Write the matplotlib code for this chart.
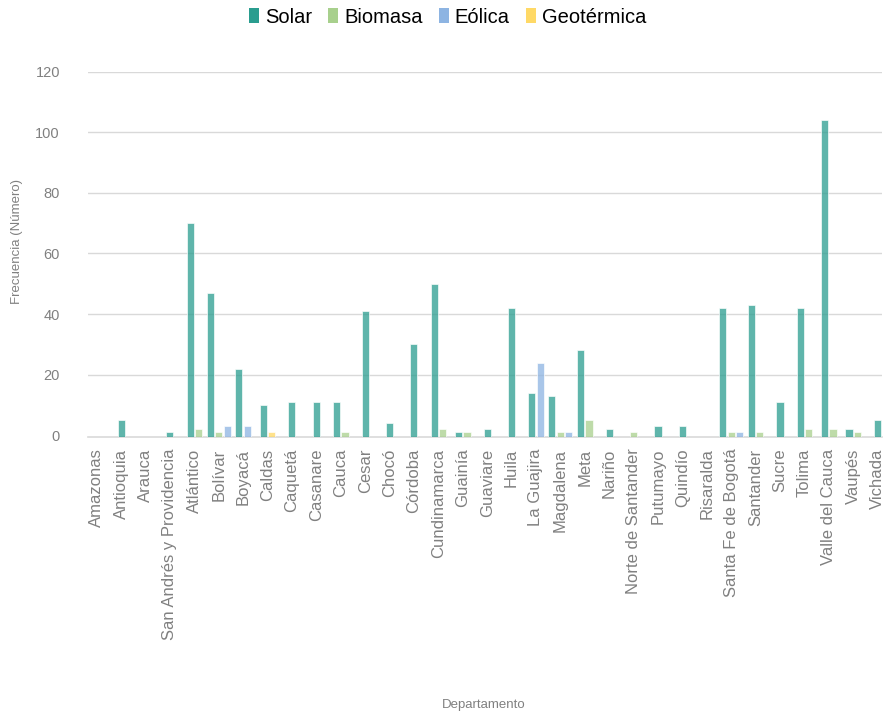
import matplotlib.pyplot as plt
from matplotlib.patches import Patch

plt.rcParams['font.family'] = ['Liberation Sans', 'DejaVu Sans']

departamentos = [
    "Amazonas", "Antioquia", "Arauca", "San Andrés y Providencia", "Atlántico",
    "Bolívar", "Boyacá", "Caldas", "Caquetá", "Casanare", "Cauca", "Cesar",
    "Chocó", "Córdoba", "Cundinamarca", "Guainía", "Guaviare", "Huila",
    "La Guajira", "Magdalena", "Meta", "Nariño", "Norte de Santander",
    "Putumayo", "Quindío", "Risaralda", "Santa Fe de Bogotá", "Santander",
    "Sucre", "Tolima", "Valle del Cauca", "Vaupés", "Vichada",
]

solar = [0, 5, 0, 1, 70, 47, 22, 10, 11, 11, 11, 41, 4, 30, 50, 1, 2, 42,
         14, 13, 28, 2, 0, 3, 3, 0, 42, 43, 11, 42, 104, 2, 5]
biomasa = [0, 0, 0, 0, 2, 1, 0, 0, 0, 0, 1, 0, 0, 0, 2, 1, 0, 0,
           0, 1, 5, 0, 1, 0, 0, 0, 1, 1, 0, 2, 2, 1, 0]
eolica = [0, 0, 0, 0, 0, 3, 3, 0, 0, 0, 0, 0, 0, 0, 0, 0, 0, 0,
          24, 1, 0, 0, 0, 0, 0, 0, 1, 0, 0, 0, 0, 0, 0]
geotermica = [0, 0, 0, 0, 0, 0, 0, 1, 0, 0, 0, 0, 0, 0, 0, 0, 0, 0,
              0, 0, 0, 0, 0, 0, 0, 0, 0, 0, 0, 0, 0, 0, 0]

series = [("Solar", solar, "#2A9D8F"),
          ("Biomasa", biomasa, "#A8D08D"),
          ("Eólica", eolica, "#8DB4E2"),
          ("Geotérmica", geotermica, "#FFD966")]

fig = plt.figure(figsize=(8.86, 7.16), dpi=100)
ax = fig.add_axes([0.099, 0.389, 0.897, 0.511])

# the axis line sits a little below zero, bars run down to it
base = -0.7
step = 0.345
width = 0.29
for i in range(len(departamentos)):
    # only non-zero series get a bar, packed around the tick
    present = [(c, s[i]) for _, s, c in series if s[i] > 0]
    n = len(present)
    for k, (c, v) in enumerate(present):
        x = i + (k - (n - 1) / 2) * step
        ax.bar(x, v - base, bottom=base, width=width, color=c, alpha=0.75,
               edgecolor="white", linewidth=0.6, zorder=3)

ax.set_xlim(-0.37, len(departamentos) - 0.8)
ax.set_ylim(base, 120)
ax.set_yticks(range(0, 121, 20))
ax.set_xticks(range(len(departamentos)))
ax.set_xticklabels(departamentos, rotation=90, fontsize=12, color="#808080")
ax.tick_params(axis="y", labelsize=10.5, labelcolor="#808080", length=0, pad=20)
ax.tick_params(axis="x", length=0, pad=8)

ax.grid(axis="y", color="#d9d9d9", linewidth=1, zorder=0)
ax.get_ygridlines()[0].set_visible(False)
for side in ["top", "right", "left"]:
    ax.spines[side].set_visible(False)
ax.spines["bottom"].set_color("#d9d9d9")
ax.spines["bottom"].set_linewidth(1.2)

ax.set_ylabel("Frecuencia (Número)", fontsize=9.5, color="#808080")
ax.yaxis.set_label_coords(-0.082, 0.537)
fig.text(0.546, 0.016, "Departamento", fontsize=9.5, color="#808080",
         ha="center", va="center")

handles = [Patch(facecolor=c, label=name) for name, _, c in series]
fig.legend(handles=handles, loc="center", bbox_to_anchor=(0.505, 0.976),
           ncol=4, frameon=False, fontsize=14.5, handlelength=0.5,
           handleheight=0.8, handletextpad=0.3, columnspacing=0.8,
           borderaxespad=0)

fig.savefig("out.png", dpi=100)
